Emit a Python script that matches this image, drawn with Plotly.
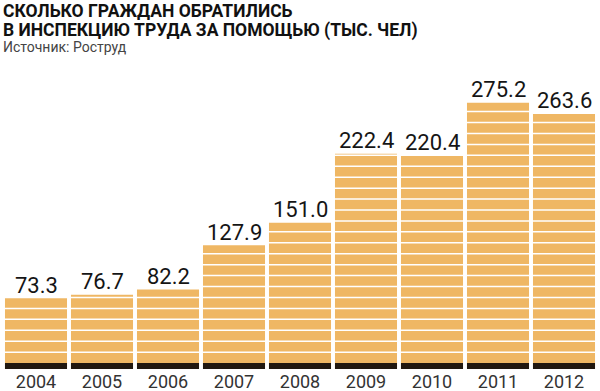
import plotly.graph_objects as go

years = ["2004", "2005", "2006", "2007", "2008", "2009", "2010", "2011", "2012"]
values = [73.3, 76.7, 82.2, 127.9, 151.0, 222.4, 220.4, 275.2, 263.6]

title_lines = ["СКОЛЬКО ГРАЖДАН ОБРАТИЛИСЬ", "В ИНСПЕКЦИЮ ТРУДА ЗА ПОМОЩЬЮ (ТЫС. ЧЕЛ)"]
source = "Источник: Роструд"

BAR_COLOR = "#EFB764"
BAND_COLOR = "#211810"
BAND_H = 6.1
STRIPE_STEP = 11.3
Y_MAX = 300.7

fig = go.Figure()
fig.add_trace(go.Bar(
    x=years, y=values,
    marker=dict(color=BAR_COLOR, line=dict(width=0)),
    hoverinfo="skip",
))
fig.add_trace(go.Bar(
    x=years, y=[BAND_H] * len(years),
    marker=dict(color=BAND_COLOR, line=dict(width=0)),
    hoverinfo="skip",
))

shapes = []
k = 1
while BAND_H + k * STRIPE_STEP < max(values):
    yv = BAND_H + k * STRIPE_STEP
    shapes.append(dict(type="line", xref="paper", yref="y", x0=0, x1=1, y0=yv, y1=yv,
                       line=dict(color="white", width=1.5), layer="above"))
    k += 1

fig.update_layout(
    width=600, height=391,
    margin=dict(l=3, r=3, t=78, b=22, pad=0, autoexpand=False),
    paper_bgcolor="white", plot_bgcolor="white",
    barmode="overlay", bargap=0.06, showlegend=False,
    shapes=shapes,
    xaxis=dict(type="category", categoryorder="array", categoryarray=years,
               range=[-0.5, len(years) - 0.5], automargin=False,
               showgrid=False, showline=False, zeroline=False, ticks="",
               tickfont=dict(family="Roboto", size=18, color="#333333"), fixedrange=True),
    yaxis=dict(range=[0, Y_MAX], visible=False, fixedrange=True, automargin=False),
)

for i, v in enumerate(values):
    fig.add_annotation(x=i, y=v, text=f"{v:.1f}", xref="x", yref="y",
                       yanchor="bottom", yshift=-1.5, showarrow=False,
                       font=dict(family="Roboto", size=22, color="#151515"))

fig.add_annotation(text="<b>" + title_lines[0] + "</b>", xref="paper", yref="paper",
                   x=-0.004, y=1, yshift=79.5, xanchor="left", yanchor="top", showarrow=False,
                   font=dict(family="Roboto", size=17.5, color="#111111"))
fig.add_annotation(text="<b>" + title_lines[1] + "</b>", xref="paper", yref="paper",
                   x=-0.004, y=1, yshift=60.5, xanchor="left", yanchor="top", showarrow=False,
                   font=dict(family="Roboto", size=17.5, color="#111111"))
fig.add_annotation(text=source, xref="paper", yref="paper",
                   x=-0.004, y=1, yshift=41.5, xanchor="left", yanchor="top", showarrow=False,
                   font=dict(family="Roboto", size=14, color="#444444"))

fig.write_html("out.html", config={"displayModeBar": False},
               post_script="document.body.style.margin='0';")
